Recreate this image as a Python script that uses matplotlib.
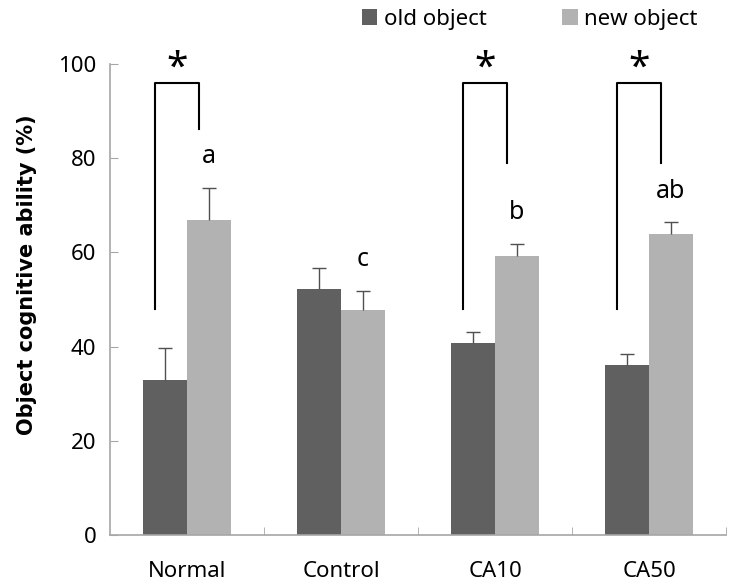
import matplotlib.pyplot as plt
import numpy as np

plt.rcParams['font.family'] = ['Noto Sans', 'DejaVu Sans']

groups = ['Normal', 'Control', 'CA10', 'CA50']
old_obj = [33.0, 52.2, 40.7, 36.0]
old_err = [6.8, 4.4, 2.3, 2.4]
new_obj = [66.9, 47.8, 59.2, 63.8]
new_err = [6.8, 4.0, 2.6, 2.6]
letters = ['a', 'c', 'b', 'ab']
yticks = [0, 20, 40, 60, 80, 100]

dark = '#606060'
light = '#b2b2b2'
axcol = '#a6a6a6'

fig = plt.figure(figsize=(7.32, 5.87), dpi=100)
ax = fig.add_axes([0.1503, 0.0886, 0.8415, 0.8024])

x = np.arange(len(groups))
w = 0.286
ax.bar(x - w/2, old_obj, w, color=dark, label='old object', zorder=2)
ax.bar(x + w/2, new_obj, w, color=light, label='new object', zorder=2)

# upper error bars only
for xs, m, e in [(x - w/2, old_obj, old_err), (x + w/2, new_obj, new_err)]:
    m = np.array(m); e = np.array(e)
    ax.errorbar(xs, m, yerr=[np.zeros_like(e), e], fmt='none',
                ecolor='#505050', elinewidth=1, capsize=0, zorder=3)
    ax.plot(xs, m + e, ls='none', marker='_', ms=10, mew=1,
            color='#505050', zorder=3)

# significance brackets
for i, rdrop in [(0, 86.2), (2, 79.0), (3, 79.0)]:
    xl = x[i] - 0.21
    xr = x[i] + 0.08
    ax.plot([xl, xl, xr, xr], [48.0, 95.9, 95.9, rdrop], color='black',
            lw=1.5, clip_on=False, zorder=4)
    ax.text((xl + xr) / 2, 99.0, '*', ha='center', va='center',
            fontsize=28, clip_on=False)

# letters above new-object bars
for i, t in enumerate(letters):
    ax.text(x[i] + w/2, new_obj[i] + new_err[i] + 6.6, t, ha='center',
            va='center', fontsize=18)

ax.set_xlim(-0.5, 3.5)
ax.set_ylim(0, 100)
ax.set_yticks(yticks)
ax.set_xticks(x)
ax.set_xticklabels(groups, fontsize=16)
ax.set_xticks([0.5, 1.5, 2.5, 3.5], minor=True)
ax.tick_params(axis='x', which='major', length=0, pad=19)
ax.tick_params(axis='x', which='minor', direction='in', length=6, color=axcol)
ax.tick_params(axis='y', direction='in', length=6, color=axcol,
               labelsize=16, pad=10)

for s in ['top', 'right']:
    ax.spines[s].set_visible(False)
for s in ['left', 'bottom']:
    ax.spines[s].set_color(axcol)
    ax.spines[s].set_linewidth(1.2)

ax.set_ylabel('Object cognitive ability (%)', fontsize=15, fontweight='bold',
              family='DejaVu Sans')
ax.yaxis.set_label_coords(-0.118, 0.552)

ax.legend(loc='center left', bbox_to_anchor=(0.394, 1.095), ncol=2,
          frameon=False, fontsize=16, handlelength=0.7, handleheight=0.7,
          handletextpad=0.3, columnspacing=3.4, borderaxespad=0)

fig.savefig('out.png', dpi=100)
